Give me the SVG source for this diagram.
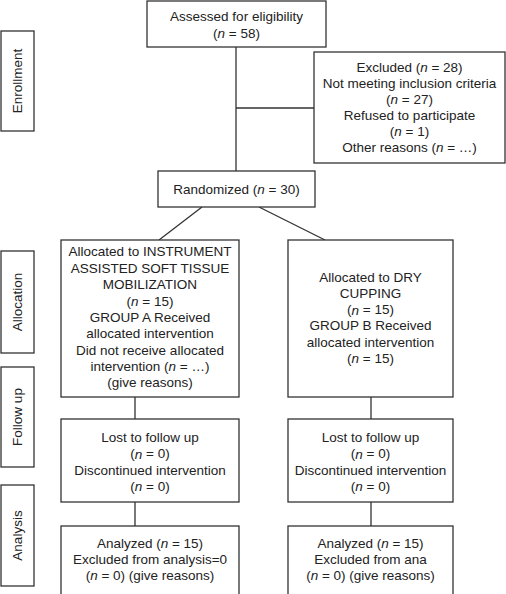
<svg xmlns="http://www.w3.org/2000/svg" width="506" height="594" viewBox="0 0 506 594">
<style>
.b{fill:#fff;stroke:#333;stroke-width:1.3}
.t{font-family:"Liberation Sans",Arial,sans-serif;font-size:13.5px;fill:#222;text-anchor:middle;dominant-baseline:central}
.i{font-style:italic}
.c{stroke:#333;stroke-width:1.3;fill:none}
</style>
<rect width="506" height="594" fill="#fff"/>
<g id="label-enrollment"><rect class="b" x="1" y="31" width="33" height="100"/><text class="t" transform="translate(17.5,81) rotate(-90)">Enrollment</text></g>
<g id="label-allocation"><rect class="b" x="1" y="251" width="33" height="102"/><text class="t" transform="translate(17.5,302) rotate(-90)">Allocation</text></g>
<g id="label-followup"><rect class="b" x="1" y="367" width="33" height="100"/><text class="t" transform="translate(17.5,417) rotate(-90)">Follow up</text></g>
<g id="label-analysis"><rect class="b" x="1" y="485" width="33" height="101"/><text class="t" transform="translate(17.5,535.5) rotate(-90)">Analysis</text></g>
<g id="connectors">
<path class="c" d="M236,47V171M236,108H314"/>
<path class="c" d="M202,207L159,240M259,207L325,240"/>
<path class="c" d="M135,397V419M371,397V419M135,502V526M371,502V526"/>
</g>
<g id="assessed"><rect class="b" x="147" y="1" width="179" height="46"/>
<text class="t" x="236.5" y="16">Assessed for eligibility</text>
<text class="t" x="236.5" y="33">(<tspan class="i">n</tspan> = 58)</text></g>
<g id="excluded"><rect class="b" x="314" y="52" width="191" height="111"/>
<text class="t" x="409.5" y="67">Excluded (<tspan class="i">n</tspan> = 28)</text>
<text class="t" x="409.5" y="83">Not meeting inclusion criteria</text>
<text class="t" x="409.5" y="99">(<tspan class="i">n</tspan> = 27)</text>
<text class="t" x="409.5" y="115">Refused to participate</text>
<text class="t" x="409.5" y="131">(<tspan class="i">n</tspan> = 1)</text>
<text class="t" x="409.5" y="147">Other reasons (<tspan class="i">n</tspan> = …)</text></g>
<g id="randomized"><rect class="b" x="158" y="171" width="157" height="36"/>
<text class="t" x="236.5" y="189">Randomized (<tspan class="i">n</tspan> = 30)</text></g>
<g id="alloc-a"><rect class="b" x="61" y="240" width="178" height="157"/>
<text class="t" x="150" y="251">Allocated to INSTRUMENT</text>
<text class="t" x="150" y="268">ASSISTED SOFT TISSUE</text>
<text class="t" x="150" y="284.5">MOBILIZATION</text>
<text class="t" x="150" y="301">(<tspan class="i">n</tspan> = 15)</text>
<text class="t" x="150" y="317">GROUP A Received</text>
<text class="t" x="150" y="333.5">allocated intervention</text>
<text class="t" x="150" y="350">Did not receive allocated</text>
<text class="t" x="150" y="366">intervention (<tspan class="i">n</tspan> = …)</text>
<text class="t" x="150" y="382">(give reasons)</text></g>
<g id="alloc-b"><rect class="b" x="288" y="240" width="165" height="157"/>
<text class="t" x="370.5" y="277">Allocated to DRY</text>
<text class="t" x="370.5" y="293">CUPPING</text>
<text class="t" x="370.5" y="309.5">(<tspan class="i">n</tspan> = 15)</text>
<text class="t" x="370.5" y="325.5">GROUP B Received</text>
<text class="t" x="370.5" y="342">allocated intervention</text>
<text class="t" x="370.5" y="358">(<tspan class="i">n</tspan> = 15)</text></g>
<g id="follow-a"><rect class="b" x="61" y="419" width="178" height="83"/>
<text class="t" x="150" y="437">Lost to follow up</text>
<text class="t" x="150" y="453.5">(<tspan class="i">n</tspan> = 0)</text>
<text class="t" x="150" y="470">Discontinued intervention</text>
<text class="t" x="150" y="486">(<tspan class="i">n</tspan> = 0)</text></g>
<g id="follow-b"><rect class="b" x="288" y="419" width="165" height="83"/>
<text class="t" x="370.5" y="437">Lost to follow up</text>
<text class="t" x="370.5" y="453.5">(<tspan class="i">n</tspan> = 0)</text>
<text class="t" x="370.5" y="470">Discontinued intervention</text>
<text class="t" x="370.5" y="486">(<tspan class="i">n</tspan> = 0)</text></g>
<g id="analysis-a"><rect class="b" x="61" y="526" width="178" height="74"/>
<text class="t" x="150" y="543">Analyzed (<tspan class="i">n</tspan> = 15)</text>
<text class="t" x="150" y="559">Excluded from analysis=0</text>
<text class="t" x="150" y="575">(<tspan class="i">n</tspan> = 0) (give reasons)</text></g>
<g id="analysis-b"><rect class="b" x="288" y="526" width="165" height="74"/>
<text class="t" x="370.5" y="543">Analyzed (<tspan class="i">n</tspan> = 15)</text>
<text class="t" x="370.5" y="559">Excluded from ana</text>
<text class="t" x="370.5" y="575">(<tspan class="i">n</tspan> = 0) (give reasons)</text></g>
</svg>
